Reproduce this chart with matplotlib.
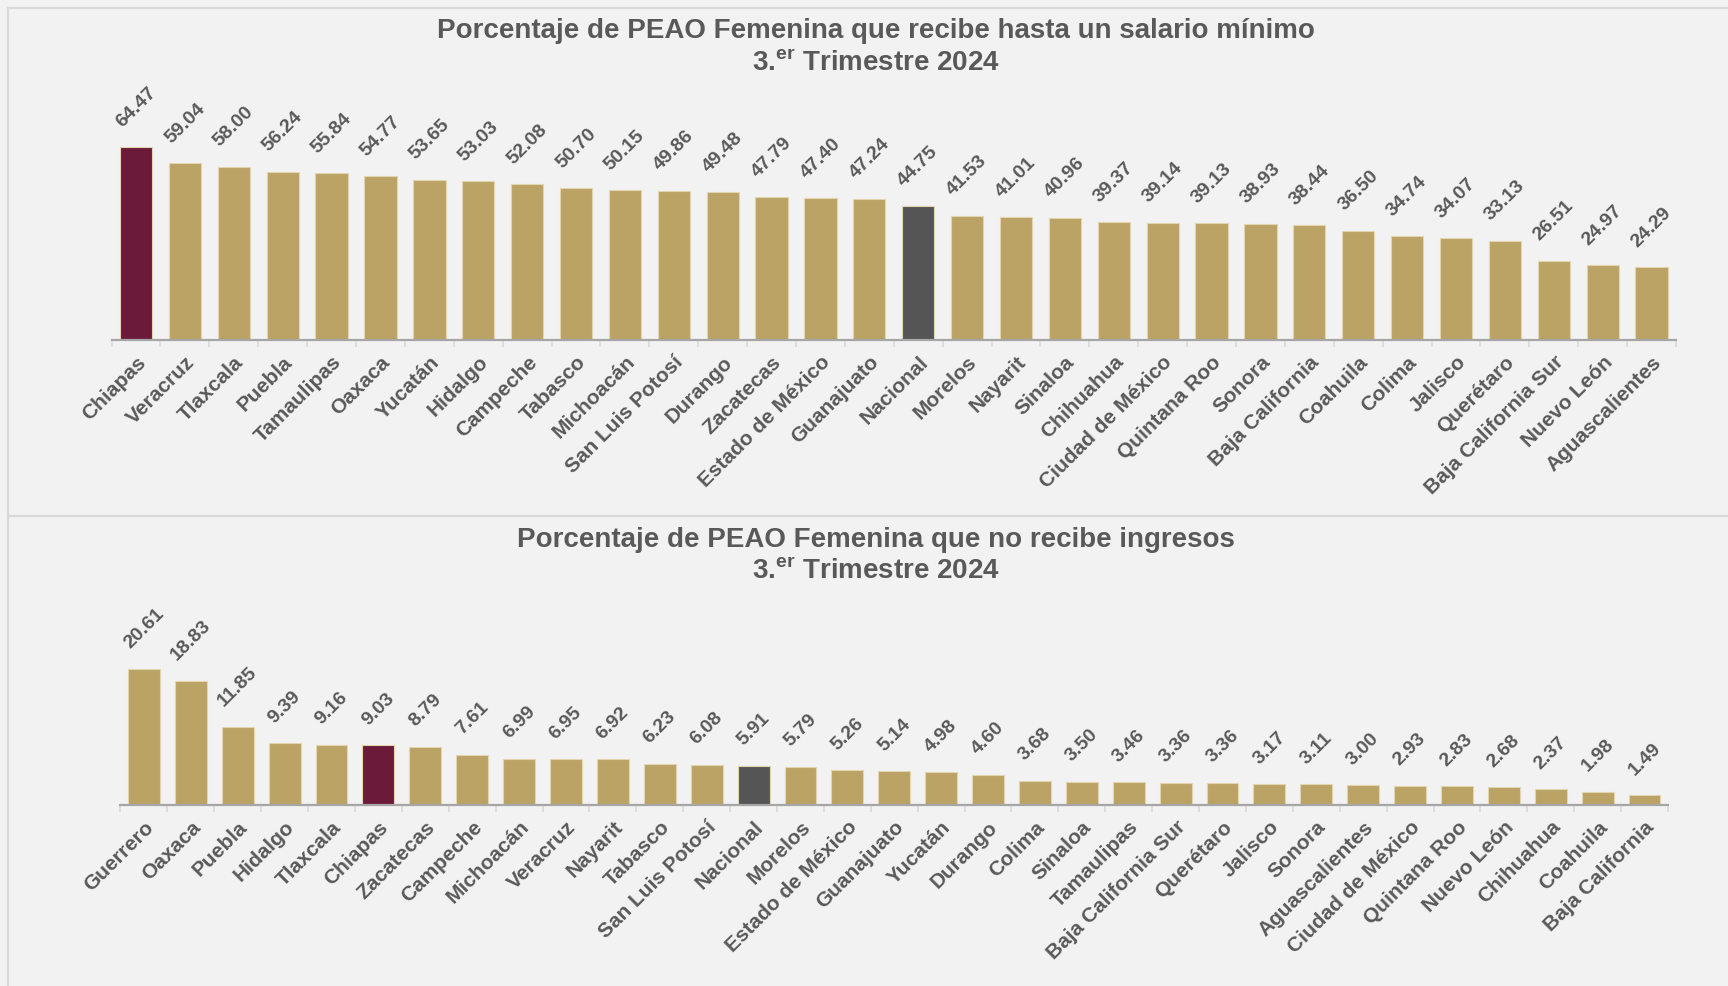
"""PEAO femenina: salario mínimo y sin ingresos, 3er trimestre 2024."""

import matplotlib
matplotlib.use("Agg")
import matplotlib.pyplot as plt
from matplotlib.lines import Line2D
import numpy as np

# Panel superior: hasta un salario mínimo
estados_sm = [
    "Chiapas", "Veracruz", "Tlaxcala", "Puebla", "Tamaulipas", "Oaxaca",
    "Yucatán", "Hidalgo", "Campeche", "Tabasco", "Michoacán",
    "San Luis Potosí", "Durango", "Zacatecas", "Estado de México",
    "Guanajuato", "Nacional", "Morelos", "Nayarit", "Sinaloa", "Chihuahua",
    "Ciudad de México", "Quintana Roo", "Sonora", "Baja California",
    "Coahuila", "Colima", "Jalisco", "Querétaro", "Baja California Sur",
    "Nuevo León", "Aguascalientes",
]
valores_sm = [
    64.47, 59.04, 58.00, 56.24, 55.84, 54.77, 53.65, 53.03, 52.08, 50.70,
    50.15, 49.86, 49.48, 47.79, 47.40, 47.24, 44.75, 41.53, 41.01, 40.96,
    39.37, 39.14, 39.13, 38.93, 38.44, 36.50, 34.74, 34.07, 33.13, 26.51,
    24.97, 24.29,
]

# Panel inferior: no recibe ingresos
estados_ni = [
    "Guerrero", "Oaxaca", "Puebla", "Hidalgo", "Tlaxcala", "Chiapas",
    "Zacatecas", "Campeche", "Michoacán", "Veracruz", "Nayarit", "Tabasco",
    "San Luis Potosí", "Nacional", "Morelos", "Estado de México",
    "Guanajuato", "Yucatán", "Durango", "Colima", "Sinaloa", "Tamaulipas",
    "Baja California Sur", "Querétaro", "Jalisco", "Sonora",
    "Aguascalientes", "Ciudad de México", "Quintana Roo", "Nuevo León",
    "Chihuahua", "Coahuila", "Baja California",
]
valores_ni = [
    20.61, 18.83, 11.85, 9.39, 9.16, 9.03, 8.79, 7.61, 6.99, 6.95, 6.92,
    6.23, 6.08, 5.91, 5.79, 5.26, 5.14, 4.98, 4.60, 3.68, 3.50, 3.46, 3.36,
    3.36, 3.17, 3.11, 3.00, 2.93, 2.83, 2.68, 2.37, 1.98, 1.49,
]

GOLD = "#BBA265"
WINE = "#6B1A3A"
GRAY_BAR = "#555555"
TEXT = "#595959"
BG = "#F2F2F2"
BORDER = "#D9D9D9"

plt.rcParams["font.family"] = ["Liberation Sans", "DejaVu Sans"]
plt.rcParams["mathtext.fontset"] = "custom"
plt.rcParams["mathtext.rm"] = "Liberation Sans"
plt.rcParams["mathtext.bf"] = "Liberation Sans:bold"

W, H = 1728, 986


def bar_colors(names):
    cols = []
    for n in names:
        if n == "Chiapas":
            cols.append(WINE)
        elif n == "Nacional":
            cols.append(GRAY_BAR)
        else:
            cols.append(GOLD)
    return cols


def draw_panel(ax, names, values, width, ymax):
    x = np.arange(len(names))
    ax.bar(x, values, width=width, color=bar_colors(names),
           edgecolor="#E2D6B0", linewidth=0.8, zorder=2)
    ax.set_xlim(-0.5, len(names) - 0.5)
    ax.set_ylim(0, ymax)
    ax.set_facecolor(BG)
    for s in ("top", "right", "left"):
        ax.spines[s].set_visible(False)
    ax.spines["bottom"].set_color("#A6A6A6")
    ax.spines["bottom"].set_linewidth(1.6)
    ax.set_yticks([])
    ax.set_xticks(x)
    ax.set_xticklabels(names, rotation=45, ha="right", va="top",
                       rotation_mode="anchor", fontsize=15,
                       fontweight="bold", color=TEXT)
    ax.tick_params(axis="x", which="major", length=0, pad=9)
    ax.set_xticks(np.arange(-0.5, len(names)), minor=True)
    ax.tick_params(axis="x", which="minor", length=5, width=1.2,
                   color=BORDER)
    for xi, v in zip(x, values):
        ax.annotate(f"{v:.2f}", (xi, v), xytext=(0, 12),
                    textcoords="offset points", rotation=45,
                    ha="center", va="bottom", fontsize=14,
                    fontweight="bold", color=TEXT)


fig = plt.figure(figsize=(W / 100, H / 100), dpi=100, facecolor=BG)

# borders of the two panels
for (x0, y0, x1, y1) in [(8, 8, W, 8), (8, 8, 8, H), (8, 516, W, 516)]:
    fig.add_artist(Line2D([x0 / W, x1 / W], [1 - y0 / H, 1 - y1 / H],
                          color=BORDER, lw=1.6))

ax1 = fig.add_axes([111.6 / W, (H - 340) / H, (1676 - 111.6) / W, 209.3 / H])
draw_panel(ax1, estados_sm, valores_sm, 0.66, 70)

ax2 = fig.add_axes([120.5 / W, (H - 805) / H, (1668 - 120.5) / W, 165 / H])
draw_panel(ax2, estados_ni, valores_ni, 0.68, 25)

title_kw = dict(ha="center", va="center", fontsize=20, fontweight="bold",
                color=TEXT)
fig.text(876 / W, 1 - 31 / H,
         "Porcentaje de PEAO Femenina que recibe hasta un salario mínimo",
         **title_kw)
fig.text(876 / W, 1 - 64 / H, r"3.$^{\mathbf{er}}$ Trimestre 2024", **title_kw)
fig.text(876 / W, 1 - 540 / H,
         "Porcentaje de PEAO Femenina que no recibe ingresos", **title_kw)
fig.text(876 / W, 1 - 572 / H, r"3.$^{\mathbf{er}}$ Trimestre 2024", **title_kw)

fig.savefig("out.png", dpi=100, facecolor=BG)
plt.close(fig)
